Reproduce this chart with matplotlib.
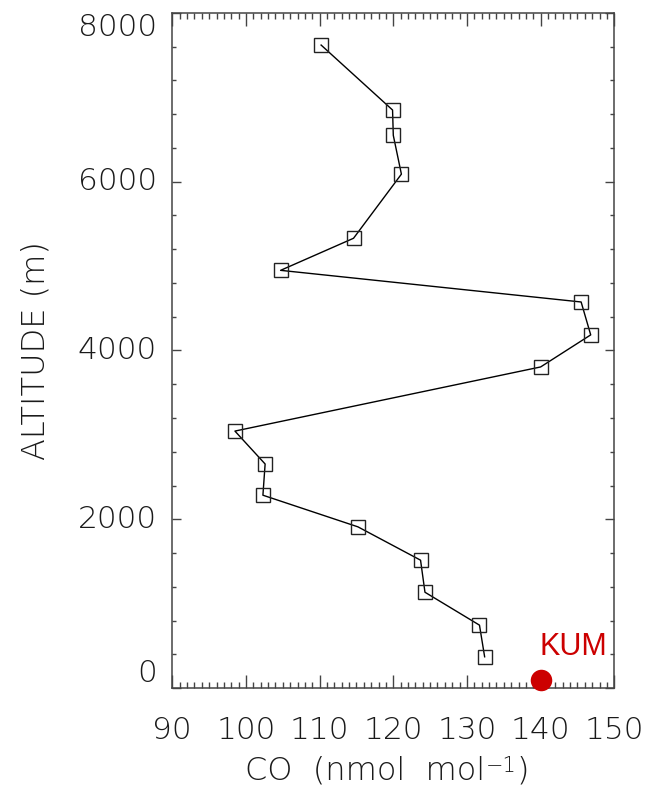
import numpy as np
import matplotlib
matplotlib.use("Agg")
import matplotlib.pyplot as plt
import matplotlib.transforms as mtransforms
from matplotlib import font_manager as fm
from matplotlib.ticker import MultipleLocator, NullFormatter

# Vertical CO profile (aircraft) and surface station value
co_profile = [110.2, 119.9, 120.0, 121.1, 114.6, 104.7, 145.5, 146.8, 140.0,
              98.5, 102.6, 102.3, 115.2, 123.7, 124.3, 131.7, 132.4]
altitude = [7620, 6850, 6550, 6090, 5330, 4950, 4575, 4185, 3805,
            3045, 2655, 2285, 1910, 1515, 1135, 745, 370]

station_name = "KUM"
station_co = [140.0]
station_alt = [100]

co_ticks = [90, 100, 110, 120, 130, 140, 150]
alt_ticks = [0, 2000, 4000, 6000, 8000]

TXT = "#1a1a1a"
AXC = "#444444"

# thin DejaVu face for all axis text
light_path = None
for f in fm.fontManager.ttflist:
    if f.name == "DejaVu Sans" and f.weight in (200, "200", "light", "extra light", "ultralight"):
        light_path = f.fname
        break
if light_path is None:
    light_path = fm.findfont(fm.FontProperties(family="DejaVu Sans"))


def thin(size):
    return fm.FontProperties(fname=light_path, size=size)


fig = plt.figure(figsize=(6.49, 7.92), dpi=100)
ax = fig.add_axes([0.2655, 0.1313, 0.681, 0.8523])

ax.plot(co_profile, altitude, "-", color="black", lw=1.0, zorder=2)
ax.plot(co_profile, altitude, "s", ms=10, mfc="none", mec="#222222",
        mew=1.0, zorder=3)

ax.plot(station_co, station_alt, "o", ms=15.5, color="#CC0000",
        mec="none", zorder=4, clip_on=False)
ax.text(station_co[0] + 4.4, 390, station_name, color="#CC0000",
        fontsize=22, family="Liberation Sans", weight="normal",
        ha="center", va="baseline")

ax.set_xlim(90, 150)
ax.set_ylim(0, 8000)
ax.set_xticks(co_ticks)
ax.xaxis.set_minor_locator(MultipleLocator(1))
ax.set_yticks(alt_ticks)
ax.yaxis.set_minor_locator(MultipleLocator(400))
ax.xaxis.set_major_formatter(NullFormatter())
ax.yaxis.set_major_formatter(NullFormatter())

ax.tick_params(axis="both", which="both", direction="in", colors=AXC,
               top=True, right=True, width=1.0)
ax.tick_params(axis="x", which="major", length=9.4)
ax.tick_params(axis="x", which="minor", length=4.0)
ax.tick_params(axis="y", which="major", length=6.5)
ax.tick_params(axis="y", which="minor", length=3.1)

for sp in ax.spines.values():
    sp.set_color(AXC)
    sp.set_linewidth(1.1)

# CO tick labels
xtrans = ax.get_xaxis_transform() + mtransforms.ScaledTranslation(
    0, -20 / 72, fig.dpi_scale_trans)
for v in co_ticks:
    ax.text(v, 0, f"{v}", transform=xtrans, ha="center", va="top",
            fontproperties=thin(22.5), color=TXT)

# altitude labels, with the end ones kept inside the axis height
ytrans = ax.get_yaxis_transform() + mtransforms.ScaledTranslation(
    -11 / 72, 0, fig.dpi_scale_trans)
for i, v in enumerate(alt_ticks):
    va = "bottom" if i == 0 else ("top" if i == len(alt_ticks) - 1 else "center")
    ax.text(0, v, f"{v}", transform=ytrans, ha="right", va=va,
            fontproperties=thin(22.5), color=TXT)

# x title: "CO (nmol mol" + raised "-1" + ")"
t1 = fig.text(0.378, 0.0152, "CO  (nmol  mol", ha="left", va="baseline",
              fontproperties=thin(23), color=TXT)
t2 = ax.annotate("\u2212" + "1", xy=(1, 1), xycoords=t1, ha="left", va="top",
                 fontproperties=thin(15), color=TXT, annotation_clip=False)
t3 = ax.annotate(")", xy=(1, 0), xycoords=(t2, t1), ha="left", va="bottom",
                 fontproperties=thin(23), color=TXT, annotation_clip=False)

ax.set_ylabel("ALTITUDE (m)", fontproperties=thin(23), color=TXT)
ax.yaxis.set_label_coords(-0.275, 0.5)

fig.savefig("out.png", dpi=100)
